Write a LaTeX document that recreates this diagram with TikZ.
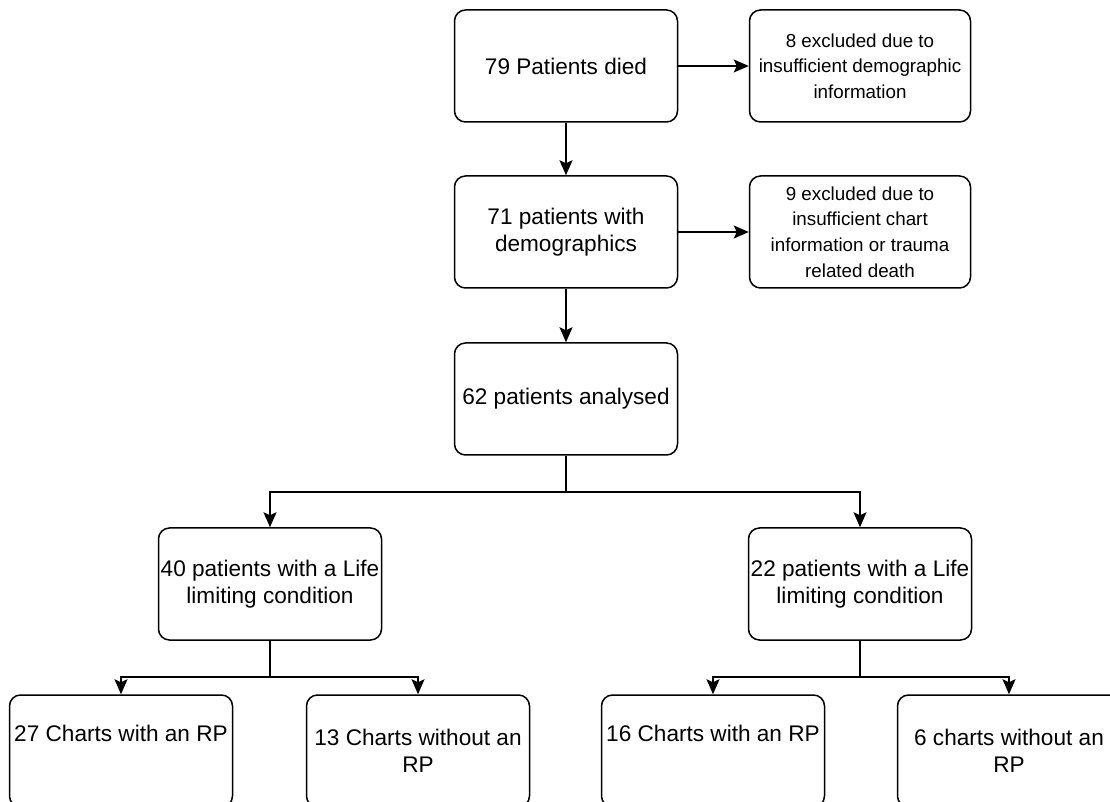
\documentclass[tikz,border=0pt]{standalone}
\usepackage{fontspec}
\setmainfont{Liberation Sans}
\usetikzlibrary{arrows.meta}

\begin{document}
\begin{tikzpicture}[x=0.5pt, y=-0.5pt,
        box/.style={rectangle, rounded corners=5.5pt, draw, line width=0.75pt, minimum width=111.5pt, minimum height=56pt, inner sep=1pt, align=center, font=\fontsize{11.3}{13.4}\selectfont},
        smallbox/.style={box, minimum width=110.5pt, font=\fontsize{9.4}{12.8}\selectfont},
        arr/.style={-{Stealth[length=7.5pt, width=6.5pt, inset=1.5pt]}, line width=0.8pt}]
        \useasboundingbox (0,0) rectangle (1110,802);
        \clip (0,0) rectangle (1110,802);

        % Main flow
        \node[box] (died) at (566,66) {79 Patients died};
        \node[box] (demo) at (566,232) {71 patients with\\ demographics};
        \node[box] (analysed) at (566,399) {62 patients analysed};

        % Exclusions
        \node[smallbox] (exclA) at (860,66) {8 excluded due to\\ insufficient demographic\\ information};
        \node[smallbox] (exclB) at (860,232) {9 excluded due to\\ insufficient chart\\ information or trauma\\ related death};

        % Groups
        \node[box] (lifeA) at (270,584) {40 patients with a Life\\ limiting condition};
        \node[box] (lifeB) at (860,584) {22 patients with a Life\\ limiting condition};

        % Charts
        \node[box] (rpA) at (121,751) {27 Charts with an RP\\ \strut};
        \node[box] (norpA) at (418,751) {13 Charts without an\\ RP};
        \node[box] (rpB) at (713,751) {16 Charts with an RP\\ \strut};
        \node[box] (norpB) at (1009,751) {6 charts without an\\ RP};

        % Arrows
        \draw[arr] (died) -- (demo);
        \draw[arr] (demo) -- (analysed);
        \draw[arr] (died) -- (exclA);
        \draw[arr] (demo) -- (exclB);
        \draw[arr] (analysed.south) -- ++(0,36) -| (lifeA.north);
        \draw[arr] (analysed.south) -- ++(0,36) -| (lifeB.north);
        \draw[arr] (lifeA.south) -- ++(0,36) -| (rpA.north);
        \draw[arr] (lifeA.south) -- ++(0,36) -| (norpA.north);
        \draw[arr] (lifeB.south) -- ++(0,36) -| (rpB.north);
        \draw[arr] (lifeB.south) -- ++(0,36) -| (norpB.north);
    \end{tikzpicture}
\end{document}
